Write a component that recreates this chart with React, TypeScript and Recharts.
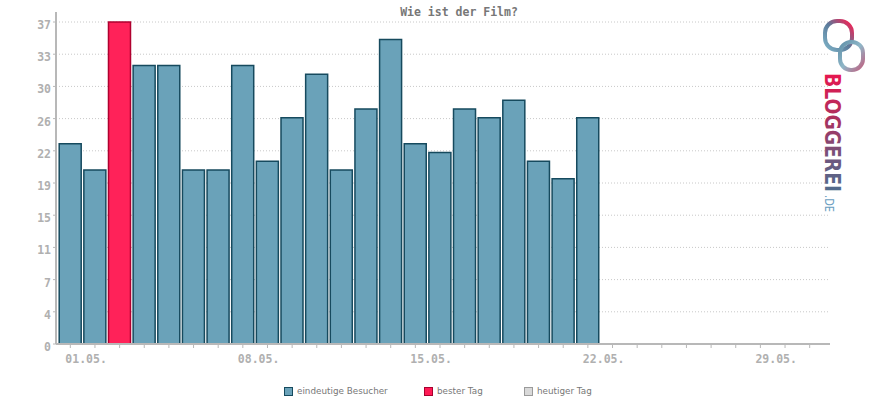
import { BarChart, Bar, XAxis, YAxis, CartesianGrid, Cell } from "recharts";

const days = [
  "01.05.", "02.05.", "03.05.", "04.05.", "05.05.", "06.05.", "07.05.", "08.05.",
  "09.05.", "10.05.", "11.05.", "12.05.", "13.05.", "14.05.", "15.05.", "16.05.",
  "17.05.", "18.05.", "19.05.", "20.05.", "21.05.", "22.05.", "23.05.", "24.05.",
  "25.05.", "26.05.", "27.05.", "28.05.", "29.05.", "30.05.", "31.05.",
];
const visitors = [23, 20, 37, 32, 32, 20, 20, 32, 21, 26, 31, 20, 27, 35, 23, 22, 27, 26, 28, 21, 19, 26];
const labeledDays = ["01.05.", "08.05.", "15.05.", "22.05.", "29.05."];
const yTicks = [0, 3.7, 7.4, 11.1, 14.8, 18.5, 22.2, 25.9, 29.6, 33.3, 37];
const yMax = 38.15;

const legendItems = [
  { label: "eindeutige Besucher", fill: "#6aa2b9", stroke: "#164a5e", left: 284 },
  { label: "bester Tag", fill: "#ff1a55", stroke: "#a8002e", left: 424 },
  { label: "heutiger Tag", fill: "#d9d9d9", stroke: "#9a9a9a", left: 524 },
];

const data = days.map((day, i) => ({ day, visitors: visitors[i] ?? null }));
const best = Math.max(...visitors);

const mono = "'DejaVu Sans Mono', monospace";

const XTick = ({ x, y, payload }: any) => {
  if (!labeledDays.includes(payload.value)) return null;
  return (
    <text x={x - 5} y={y + 13} fill="#b0b0b0" fontFamily={mono} fontWeight="bold" fontSize={11.5} textAnchor="start">
      {payload.value}
    </text>
  );
};

// grid only on the inner ticks, no line along the top edge
const gridRows = ({ yAxis, offset }: any) =>
  yTicks
    .filter((t) => t > 0)
    .map((t) =>
      typeof yAxis?.scale === "function"
        ? yAxis.scale(t)
        : offset.top + offset.height * (1 - t / yMax)
    );

export default function App() {
  return (
    <div style={{ position: "absolute", left: 0, top: 0, width: 870, height: 400, background: "#fff" }}>
      <BarChart
        width={870}
        height={400}
        data={data}
        margin={{ top: 12, right: 40, bottom: 26, left: 0 }}
        barCategoryGap={1.2}
      >
        <CartesianGrid
          vertical={false}
          stroke="#c8c8c8"
          strokeDasharray="1 2"
          horizontalCoordinatesGenerator={gridRows}
        />
        <XAxis
          dataKey="day"
          interval={0}
          tick={<XTick />}
          tickSize={4}
          tickLine={{ stroke: "#b8b8b8" }}
          axisLine={{ stroke: "#b8b8b8", strokeWidth: 2 }}
          padding={{ left: 2, right: 8 }}
          height={30}
        />
        <YAxis
          width={56}
          domain={[0, yMax]}
          ticks={yTicks}
          interval={0}
          tickFormatter={(v: number) => String(Math.round(v))}
          tick={{ fill: "#b0b0b0", fontFamily: mono, fontWeight: "bold", fontSize: 11.5, dy: 3 }}
          tickSize={3}
          tickLine={{ stroke: "#b8b8b8" }}
          axisLine={{ stroke: "#b8b8b8", strokeWidth: 2 }}
        />
        <Bar dataKey="visitors" isAnimationActive={false} strokeWidth={1.5}>
          {data.map((d, i) => (
            <Cell
              key={i}
              fill={d.visitors === best ? "#ff2259" : "#6aa2b9"}
              stroke={d.visitors === best ? "#b0002f" : "#164a5e"}
            />
          ))}
        </Bar>
      </BarChart>

      <svg width={870} height={400} style={{ position: "absolute", left: 0, top: 0, pointerEvents: "none" }}>
        <defs>
          <linearGradient id="logoText" gradientUnits="userSpaceOnUse" x1={0} y1={0} x2={120} y2={0}>
            <stop offset="0" stopColor="#e8174f" />
            <stop offset="0.4" stopColor="#a8325f" />
            <stop offset="0.75" stopColor="#6a5a80" />
            <stop offset="1" stopColor="#4f6d8c" />
          </linearGradient>
          <linearGradient id="link1" x1="0" y1="1" x2="1" y2="0">
            <stop offset="0" stopColor="#7fb4c8" />
            <stop offset="0.5" stopColor="#5a7a9a" />
            <stop offset="1" stopColor="#ff1a4f" />
          </linearGradient>
          <linearGradient id="link2" x1="0" y1="0" x2="1" y2="1">
            <stop offset="0" stopColor="#5f8fa8" />
            <stop offset="0.5" stopColor="#8fb7c8" />
            <stop offset="1" stopColor="#c06080" />
          </linearGradient>
        </defs>
        <text x={459} y={16} textAnchor="middle" fill="#777" fontFamily={mono} fontWeight="bold" fontSize={11.5}>
          Wie ist der Film?
        </text>
        <rect x={825} y={21} width={27} height={29} rx={12} fill="none" stroke="url(#link1)" strokeWidth={4} />
        <rect x={840} y={42} width={23} height={28} rx={11} fill="none" stroke="url(#link2)" strokeWidth={4} />
        <g transform="translate(825,73) rotate(90)">
          <text x={0} y={0} fill="url(#logoText)" fontFamily="'DejaVu Sans'" fontWeight="bold" fontSize={21} textLength={119} lengthAdjust="spacingAndGlyphs">
            BLOGGEREI
          </text>
          <text x={122} y={0} fill="#6a9ec0" fontFamily="'DejaVu Sans'" fontSize={12} textLength={17} lengthAdjust="spacingAndGlyphs">
            .DE
          </text>
        </g>
      </svg>

      {legendItems.map((item) => (
        <div
          key={item.label}
          style={{
            position: "absolute",
            left: item.left,
            top: 386,
            display: "flex",
            alignItems: "center",
            fontFamily: "'DejaVu Sans', sans-serif",
            fontSize: 8.8,
            color: "#777",
          }}
        >
          <span
            style={{
              display: "inline-block",
              width: 7,
              height: 7,
              background: item.fill,
              border: `1px solid ${item.stroke}`,
              marginRight: 4,
            }}
          />
          {item.label}
        </div>
      ))}
    </div>
  );
}
